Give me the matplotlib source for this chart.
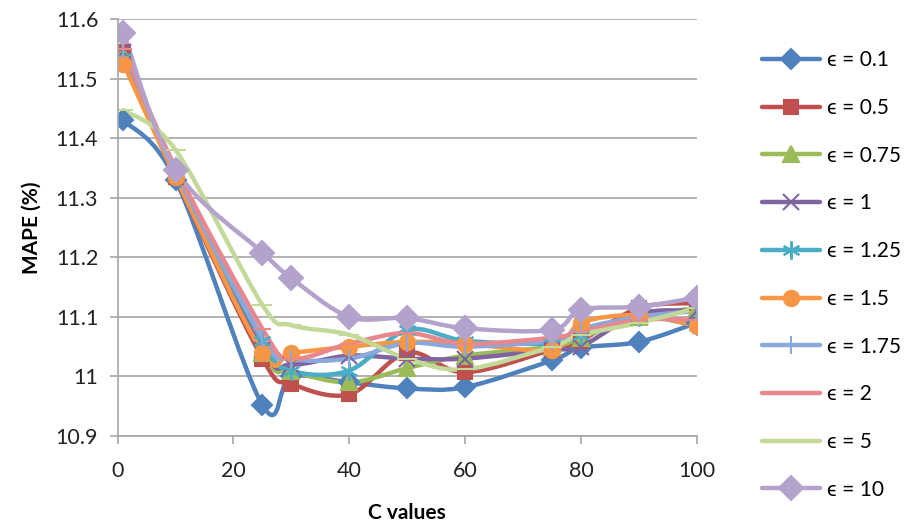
import numpy as np
import matplotlib.pyplot as plt
from matplotlib.path import Path
from matplotlib.patches import PathPatch
from matplotlib.lines import Line2D

# C values on the x axis
c_values = [1, 10, 25, 30, 40, 50, 60, 75, 80, 90, 100]

# MAPE (%) for each epsilon
eps_labels = ['ϵ = 0.1', 'ϵ = 0.5', 'ϵ = 0.75', 'ϵ = 1', 'ϵ = 1.25',
              'ϵ = 1.5', 'ϵ = 1.75', 'ϵ = 2', 'ϵ = 5', 'ϵ = 10']
mape_01 = [11.43, 11.33, 10.952, 11.0, 10.99, 10.98, 10.982, 11.027, 11.048, 11.058, 11.09]
mape_05 = [11.545, 11.335, 11.03, 10.988, 10.97, 11.04, 11.007, 11.045, 11.06, 11.115, 11.123]
mape_075 = [11.54, 11.34, 11.04, 11.01, 10.99, 11.014, 11.035, 11.05, 11.065, 11.1, 11.115]
mape_1 = [11.545, 11.34, 11.045, 11.02, 11.035, 11.03, 11.03, 11.045, 11.05, 11.105, 11.11]
mape_125 = [11.535, 11.34, 11.06, 11.01, 11.01, 11.078, 11.06, 11.055, 11.07, 11.1, 11.085]
mape_15 = [11.525, 11.335, 11.04, 11.04, 11.05, 11.058, 11.055, 11.045, 11.09, 11.103, 11.085]
mape_175 = [11.55, 11.345, 11.065, 11.03, 11.03, 11.056, 11.05, 11.06, 11.08, 11.1, 11.11]
mape_2 = [11.55, 11.35, 11.08, 11.03, 11.055, 11.073, 11.055, 11.065, 11.075, 11.095, 11.095]
mape_5 = [11.447, 11.38, 11.12, 11.086, 11.07, 11.03, 11.012, 11.05, 11.07, 11.09, 11.115]
mape_10 = [11.577, 11.347, 11.208, 11.165, 11.1, 11.098, 11.081, 11.078, 11.112, 11.117, 11.132]

series = [mape_01, mape_05, mape_075, mape_1, mape_125,
          mape_15, mape_175, mape_2, mape_5, mape_10]

colors = ['#4F81BD', '#C0504D', '#9BBB59', '#8064A2', '#4BACC6',
          '#F79646', '#8AA8DA', '#E8878D', '#C3D99A', '#B3A2CC']
markers = ['D', 's', '^', 'x', (6, 2, 0), 'o', '|', '_', '_', 'D']
msizes = [10, 10, 11, 11, 13, 11, 13, 13, 15, 12]


def smooth_path(xs, ys):
    # Excel-like smoothed line: cubic Bezier through the points
    pts = np.column_stack([xs, ys]).astype(float)
    n = len(pts)
    verts = [pts[0]]
    codes = [Path.MOVETO]
    for i in range(n - 1):
        p_prev = pts[i - 1] if i > 0 else pts[i]
        p_next2 = pts[i + 2] if i + 2 < n else pts[i + 1]
        c1 = pts[i] + (pts[i + 1] - p_prev) / 6
        c2 = pts[i + 1] - (p_next2 - pts[i]) / 6
        verts += [c1, c2, pts[i + 1]]
        codes += [Path.CURVE4] * 3
    return Path(verts, codes)


plt.rcParams['font.family'] = ['Lato', 'DejaVu Sans']

fig = plt.figure(figsize=(9.12, 5.26), dpi=100)
ax = fig.add_axes([0.129, 0.171, 0.635, 0.793])

handles = []
for vals, col, mk, ms, lab in zip(series, colors, markers, msizes, eps_labels):
    patch = PathPatch(smooth_path(c_values, vals), facecolor='none',
                      edgecolor=col, lw=3.2, capstyle='round', joinstyle='round')
    ax.add_patch(patch)
    ax.plot(c_values, vals, linestyle='none', marker=mk, markersize=ms,
            color=col, markeredgecolor=col, markeredgewidth=1.5)
    handles.append(Line2D([], [], color=col, lw=3.2, marker=mk, markersize=ms,
                          markeredgecolor=col, markeredgewidth=1.5,
                          solid_capstyle='round'))

ax.set_xlim(0, 100)
ax.set_ylim(10.9, 11.6)
ax.set_xticks([0, 20, 40, 60, 80, 100])
ax.set_yticks(np.arange(10.9, 11.61, 0.1))
ax.set_yticklabels(['10.9', '11', '11.1', '11.2', '11.3', '11.4', '11.5', '11.6'])
ax.yaxis.grid(True, color='#A6A6A6', lw=1.2)
ax.set_axisbelow(True)
for s in ['top', 'right']:
    ax.spines[s].set_visible(False)
for s in ['left', 'bottom']:
    ax.spines[s].set_color('#A6A6A6')
    ax.spines[s].set_linewidth(1.2)
ax.tick_params(axis='both', colors='#A6A6A6', labelcolor='#222222',
               labelsize=15.5, length=6, width=1.2)
ax.tick_params(axis='x', pad=12)
ax.tick_params(axis='y', pad=8)

ax.set_xlabel('C values', fontsize=15, fontweight='bold', labelpad=16)
ax.set_ylabel('MAPE (%)', fontsize=15, fontweight='bold', labelpad=10)

fig.legend(handles, eps_labels, loc='upper left', bbox_to_anchor=(0.815, 0.94),
           frameon=False, fontsize=15, handlelength=2.8, handletextpad=0.3,
           labelspacing=1.33)

fig.savefig('out.png', dpi=100)
